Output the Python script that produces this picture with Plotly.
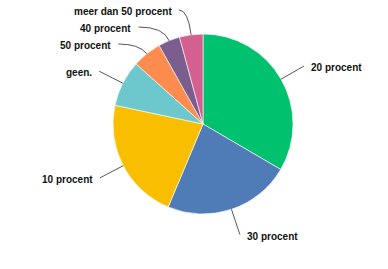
import math
import plotly.graph_objects as go

labels = ["20 procent", "30 procent", "10 procent", "geen.", "50 procent", "40 procent", "meer dan 50 procent"]
values = [33.4, 22.9, 22.0, 8.3, 5.25, 3.9, 4.2]
colors = ["#00c16e", "#4f7cb6", "#f9be00", "#6cc8cc", "#ff8c4f", "#7b5e8e", "#d3608f"]

W, H = 388, 269
CX, CY, R = 203, 124, 90
RL = 116.5     # label anchor radius
GAP = 17       # min vertical spacing of labels
YMIN = 10

fig = go.Figure(go.Pie(
    labels=labels, values=values, sort=False, direction="clockwise", rotation=0,
    marker=dict(colors=colors, line=dict(color="white", width=0.6)),
    textinfo="none", hoverinfo="label+percent", showlegend=False,
    domain=dict(x=[(CX - R) / W, (CX + R) / W], y=[(H - CY - R) / H, (H - CY + R) / H]),
))

total = sum(values)
cum = 0
items = []
for lab, v in zip(labels, values):
    mid = (cum + v / 2) / total * 2 * math.pi
    cum += v
    s, c = math.sin(mid), math.cos(mid)
    items.append(dict(lab=lab, mid=mid, s=s, c=c, y=CY - RL * c, side=1 if s > 0 else -1))

for side in (1, -1):
    grp = sorted([it for it in items if it["side"] == side], key=lambda it: it["y"])
    prev = None
    for it in grp:
        y = max(it["y"], YMIN)
        if prev is not None:
            y = max(y, prev + GAP)
        it["y"] = y
        prev = y

def px(x):
    return x / W

def py(y):
    return 1 - y / H

shapes = []
annotations = []
for it in items:
    dy = it["y"] - CY
    ex = CX + it["side"] * math.sqrt(max(RL ** 2 - dy ** 2, 0))
    ey = it["y"]
    sx, sy = CX + R * it["s"], CY - R * it["c"]
    if abs(it["c"]) > 1e-6:
        t = -dy / it["c"]
    else:
        t = RL
    qx = CX + t * it["s"]
    qy = ey
    if (qx - ex) * it["side"] > 0:
        qx = ex
    path = f"M {px(sx)},{py(sy)} Q {px(qx)},{py(qy)} {px(ex)},{py(ey)}"
    shapes.append(dict(type="path", path=path, xref="paper", yref="paper",
                       line=dict(color="#555555", width=1)))
    annotations.append(dict(
        text="<b>" + it["lab"] + "</b>", x=px(ex + it["side"] * 5), y=py(ey + 1.5),
        xref="paper", yref="paper",
        xanchor="left" if it["side"] > 0 else "right", yanchor="middle", showarrow=False,
        font=dict(family="Liberation Sans, Arial, sans-serif", size=10, color="#111111"),
    ))

fig.update_layout(
    width=W, height=H, margin=dict(l=0, r=0, t=0, b=0),
    paper_bgcolor="white", plot_bgcolor="white",
    shapes=shapes, annotations=annotations,
)
fig.write_html("out.html")
